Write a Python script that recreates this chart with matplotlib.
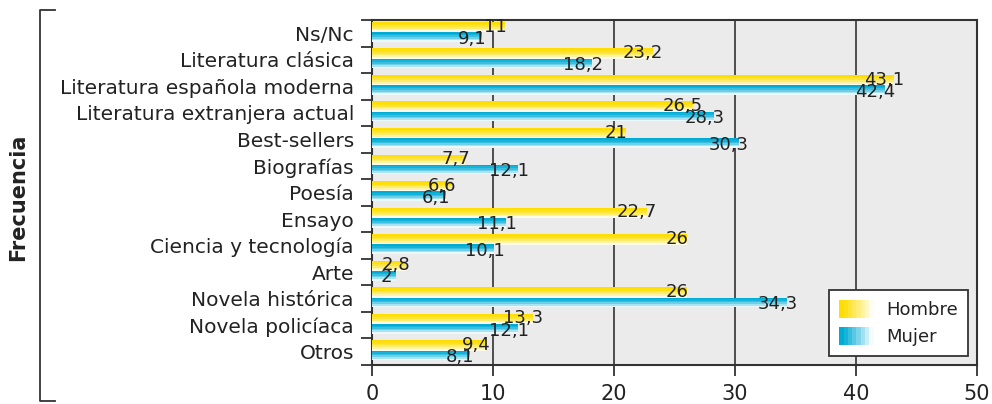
import numpy as np
import matplotlib
matplotlib.use("Agg")
import matplotlib.pyplot as plt
from matplotlib.colors import to_rgb
from matplotlib.legend_handler import HandlerBase
from matplotlib.patches import Rectangle, Patch
from matplotlib.lines import Line2D

categories = ["Ns/Nc", "Literatura clásica", "Literatura española moderna",
              "Literatura extranjera actual", "Best-sellers", "Biografías", "Poesía",
              "Ensayo", "Ciencia y tecnología", "Arte", "Novela histórica",
              "Novela policíaca", "Otros"]
hombre = [11, 23.2, 43.1, 26.5, 21, 7.7, 6.6, 22.7, 26, 2.8, 26, 13.3, 9.4]
mujer = [9.1, 18.2, 42.4, 28.3, 30.3, 12.1, 6.1, 11.1, 10.1, 2, 34.3, 12.1, 8.1]
series_names = ["Hombre", "Mujer"]
x_ticks = [0, 10, 20, 30, 40, 50]
y_title = "Frecuencia"

FONT = "DejaVu Sans"
plt.rcParams['font.family'] = [FONT]
TXT = "#222222"

YEL = "#FFDD00"
BLU = "#00ACD6"
NSTRIP = 6


def grad_colors(base, n, end=0.92, gamma=1.5):
    c0 = np.array(to_rgb(base))
    w = np.ones(3)
    return [tuple(c0 + (w - c0) * end * (k / (n - 1)) ** gamma) for k in range(n)]


fig = plt.figure(figsize=(9.92, 4.04), dpi=100)
ax = fig.add_axes([372 / 992, 1 - 365 / 404, (977 - 372) / 992, (365 - 20) / 404])
ax.set_facecolor("#EBEBEB")

n = len(categories)
pos = np.arange(n)

# bar geometry (in category units, axis inverted so + is downward)
y_top, y_mid, y_bot = -0.43, -0.04, 0.32


def grad_barh(values, start, end, color):
    cols = grad_colors(color, NSTRIP)
    h = (end - start) / NSTRIP
    for k in range(NSTRIP):
        ax.barh(pos + start + h * (k + 0.5), values, height=h * 1.02,
                color=cols[k], linewidth=0, zorder=3)


grad_barh(hombre, y_top, y_mid, YEL)
grad_barh(mujer, y_mid, y_bot, BLU)

vfs = 13
for i in range(n):
    ax.text(hombre[i] - 0.8, pos[i] + (y_top + y_mid) / 2 - 0.02,
            f"{hombre[i]:g}".replace(".", ","), ha="center", va="center",
            fontsize=vfs, color=TXT, zorder=5)
    ax.text(mujer[i] - 0.8, pos[i] + (y_mid + y_bot) / 2 + 0.06,
            f"{mujer[i]:g}".replace(".", ","), ha="center", va="center",
            fontsize=vfs, color=TXT, zorder=5)

ax.set_xlim(0, 50)
ax.set_ylim(n - 0.5, -0.5)
ax.set_xticks(x_ticks)
ax.set_xticklabels([str(t) for t in x_ticks], fontsize=15, color=TXT)
ax.set_yticks(pos)
ax.set_yticklabels(categories, fontsize=14.5, color=TXT)
ax.set_yticks(np.arange(n + 1) - 0.5, minor=True)
ax.tick_params(axis="y", which="major", length=0, pad=13)
ax.tick_params(axis="y", which="minor", length=8, width=1.3, color="#333333")
ax.tick_params(axis="x", length=8, width=1.3, color="#333333", pad=6)

for t in x_ticks[1:-1]:
    ax.axvline(t, color="#333333", lw=1.2, zorder=1)
for s in ax.spines.values():
    s.set_color("#333333")
    s.set_linewidth(1.5)


class GradHandler(HandlerBase):
    def __init__(self, color):
        super().__init__()
        self.color = color

    def create_artists(self, legend, orig_handle, xdescent, ydescent, width,
                       height, fontsize, trans):
        cols = grad_colors(self.color, 8, end=0.95, gamma=1.2)
        arts = []
        w = width / 8
        for k in range(8):
            r = Rectangle((-xdescent + k * w, -ydescent), w * 1.02, height,
                          facecolor=cols[k], edgecolor="none", transform=trans)
            arts.append(r)
        return arts


h1 = Patch(label=series_names[0])
h2 = Patch(label=series_names[1])
leg = ax.legend([h1, h2], series_names, loc="lower right",
                bbox_to_anchor=(0.985, 0.026), fontsize=13, frameon=True,
                fancybox=False, edgecolor="#333333", framealpha=1,
                handlelength=1.9, handleheight=1.15, handletextpad=0.7,
                borderpad=0.55, labelspacing=0.45, borderaxespad=0,
                handler_map={h1: GradHandler(YEL), h2: GradHandler(BLU)})
leg.get_frame().set_linewidth(1.3)
for t in leg.get_texts():
    t.set_color(TXT)
leg.set_zorder(10)

# left bracket
bx, bx2 = 40 / 992, 55 / 992
ytop, ybot = 1 - 10 / 404, 1 - 401 / 404
fig.add_artist(Line2D([bx2, bx, bx, bx2], [ytop, ytop, ybot, ybot],
                      transform=fig.transFigure, color="#333333", lw=1.3))
fig.text(18 / 992, 1 - 197 / 404, y_title, rotation=90, ha="center", va="center",
         fontsize=15, fontweight="bold", color=TXT)

fig.savefig("out.png", dpi=100)
